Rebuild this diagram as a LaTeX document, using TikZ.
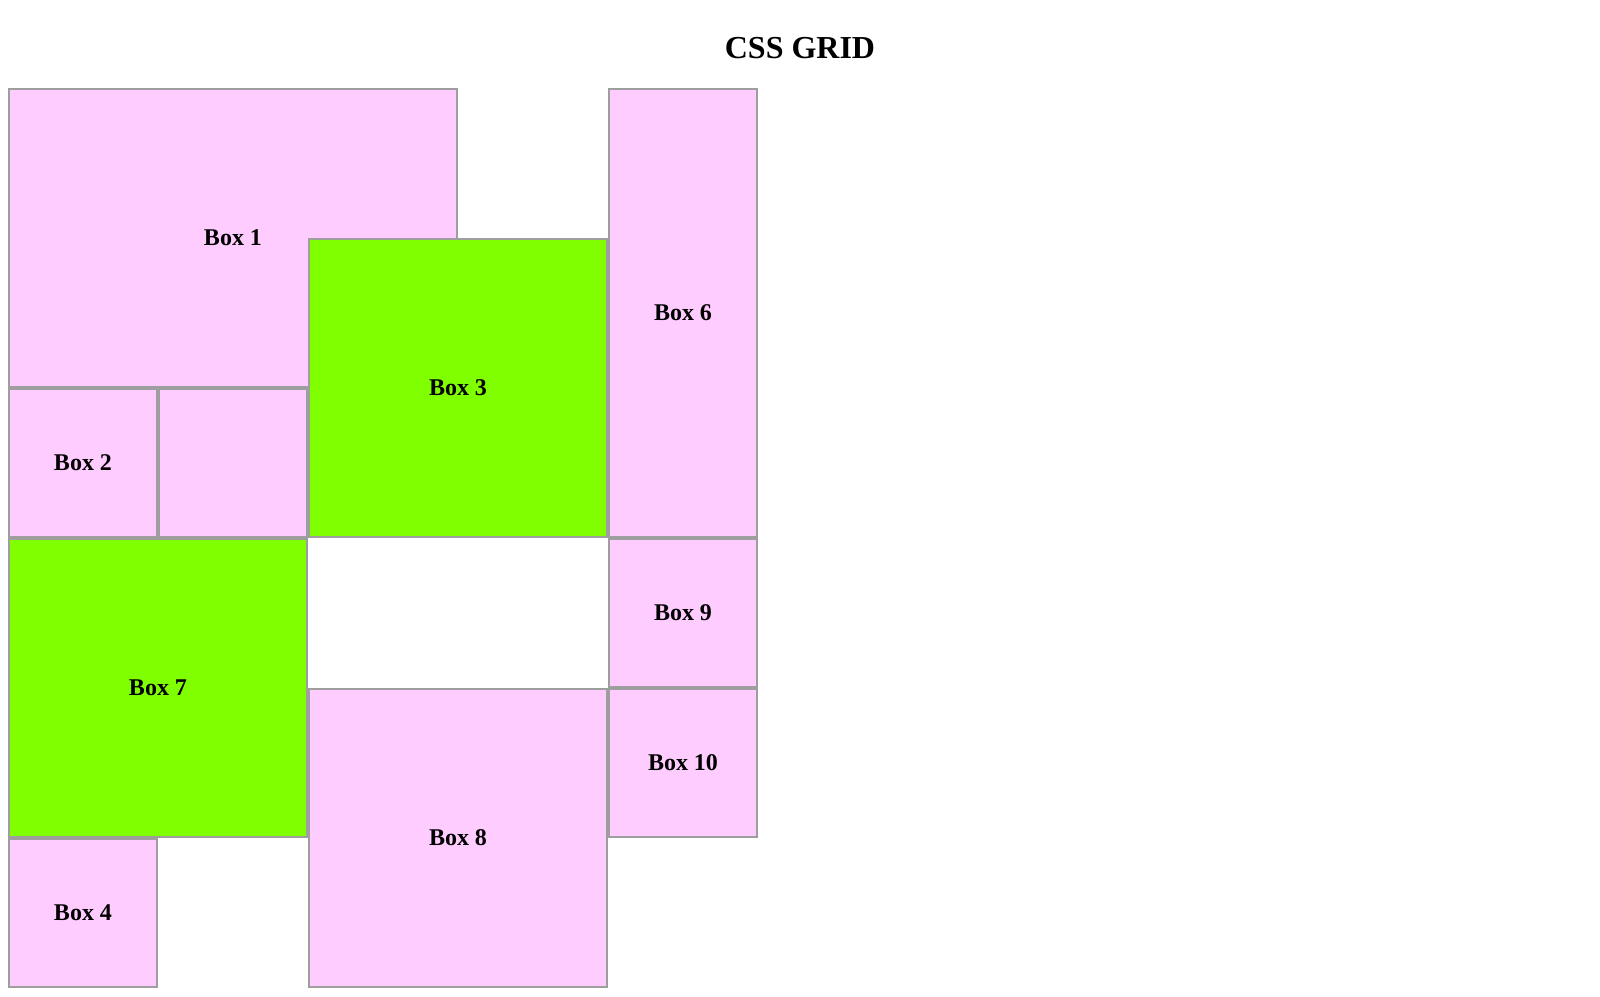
\documentclass[tikz,border=0pt]{standalone}
\usepackage{fontspec}
\setmainfont{Liberation Serif}
\usepackage{tikz}
\usetikzlibrary{positioning}
\definecolor{boxpink}{RGB}{255,204,255}
\definecolor{boxgreen}{RGB}{128,255,0}
\definecolor{boxline}{RGB}{158,158,158}
\tikzset{
cell/.style 2 args={draw=boxline,line width=0.9pt,inner sep=0pt,
  minimum width=#1*75pt-0.9pt,minimum height=#2*75pt-0.9pt,
  font=\fontsize{12pt}{14pt}\selectfont\bfseries},
pinkbox/.style={fill=boxpink},
greenbox/.style={fill=boxgreen}
}
\begin{document}
\begin{tikzpicture}[x=75pt,y=-75pt]
\useasboundingbox (-0.05333,-0.58667) rectangle (10.61333,6.05333);
\node[anchor=base,font=\fontsize{16pt}{19pt}\selectfont\bfseries] (title) at (5.28,-0.198) {CSS GRID};
\node[cell={3}{2},pinkbox] (box1) at (1.5,1) {Box 1};
\node[cell={1}{3},pinkbox] (box6) at (4.5,1.5) {Box 6};
\node[cell={1}{1},pinkbox] (box2) at (0.5,2.5) {Box 2};
\node[cell={1}{1},pinkbox] (box5) at (1.5,2.5) {};
\node[cell={2}{2},greenbox] (box3) at (3,2) {Box 3};
\node[cell={2}{2},greenbox] (box7) at (1,4) {Box 7};
\node[cell={1}{1},pinkbox] (box9) at (4.5,3.5) {Box 9};
\node[cell={1}{1},pinkbox] (box10) at (4.5,4.5) {Box 10};
\node[cell={2}{2},pinkbox] (box8) at (3,5) {Box 8};
\node[cell={1}{1},pinkbox] (box4) at (0.5,5.5) {Box 4};
\end{tikzpicture}
\end{document}
